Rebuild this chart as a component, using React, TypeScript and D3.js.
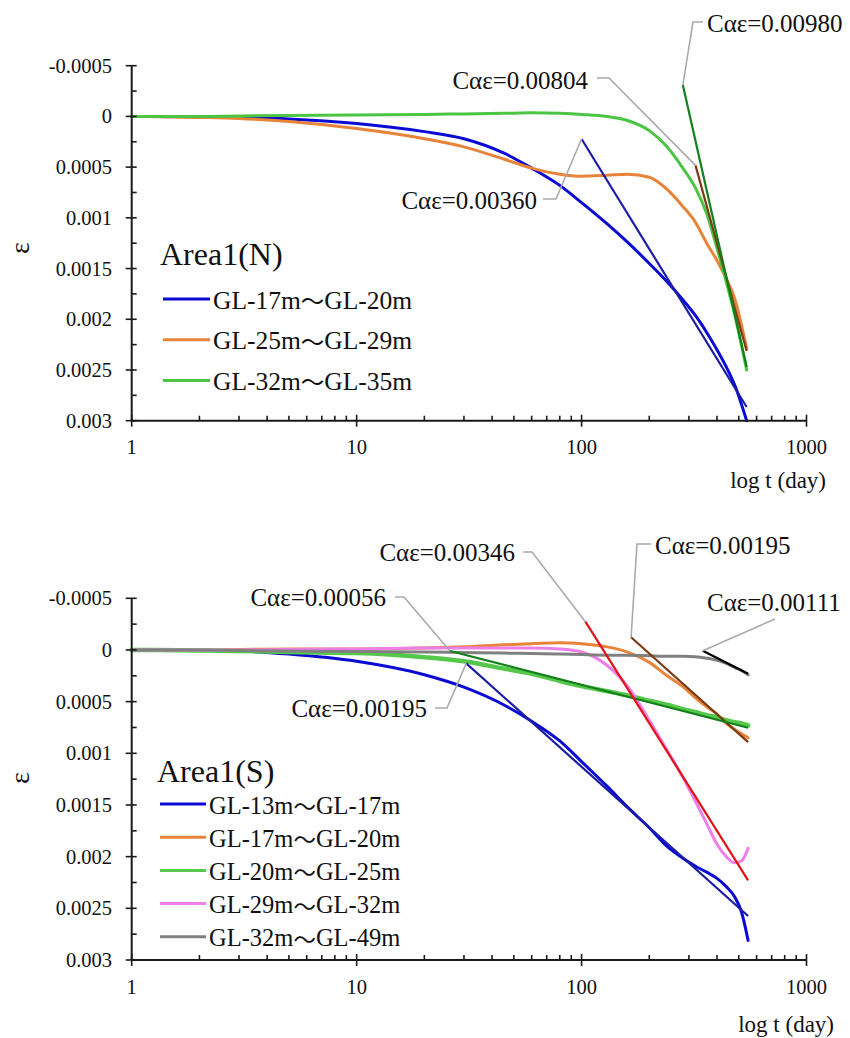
import React from "react";
import * as d3 from "d3";

// ---------- data ----------
const topT = [1, 2, 3, 5, 10, 20, 30, 45, 60, 80, 100, 130, 160, 200, 240, 280, 320, 360, 400, 440, 480, 542];
const topBlue = [0, 0.000004, 0.00001, 0.000025, 0.00007, 0.00015, 0.00022, 0.00036, 0.00051, 0.00068, 0.00085, 0.00106, 0.00124, 0.00145, 0.00163, 0.0018, 0.00196, 0.00213, 0.0023, 0.00247, 0.00265, 0.003];
const topOrange = [0, 0.00001, 0.00002, 0.00005, 0.00012, 0.00022, 0.0003, 0.00042, 0.00051, 0.00057, 0.00059, 0.00058, 0.00057, 0.0006, 0.00072, 0.00088, 0.00104, 0.00125, 0.00142, 0.0016, 0.0018, 0.00229];
const topGreen = [0, 0, -0.000005, -0.00001, -0.000015, -0.00002, -0.000025, -0.00003, -0.000035, -0.00003, -0.00002, 0, 0.00004, 0.00014, 0.0003, 0.0005, 0.0007, 0.00096, 0.0013, 0.00163, 0.00196, 0.0025];
const topNames = ["GL-17m〜GL-20m", "GL-25m〜GL-29m", "GL-32m〜GL-35m"];

const botT = [1, 2, 3, 5, 10, 20, 30, 45, 60, 80, 100, 130, 160, 200, 240, 280, 320, 360, 400, 440, 480, 515, 550];
const botBlue = [0, 0.000005, 0.00001, 0.00004, 0.00011, 0.00024, 0.00036, 0.00053, 0.00069, 0.00088, 0.00108, 0.00132, 0.00152, 0.00172, 0.0019, 0.00201, 0.00209, 0.00215, 0.00221, 0.00229, 0.00239, 0.00254, 0.00281];
const botOrange = [0, 0, -0.000005, -0.00001, -0.00001, -0.00002, -0.00003, -0.00005, -0.00006, -0.00007, -0.00006, -0.00003, 0.00002, 0.00012, 0.00025, 0.00035, 0.00046, 0.00055, 0.00062, 0.00071, 0.00077, 0.00081, 0.00085];
const botGreen = [0, 0.000005, 0.00001, 0.00002, 0.00003, 0.00007, 0.00011, 0.00018, 0.00023, 0.0003, 0.00035, 0.0004, 0.00044, 0.00049, 0.00053, 0.00057, 0.0006, 0.00063, 0.00065, 0.00068, 0.0007, 0.00071, 0.00073];
const botPink = [0, 0, 0, -0.000005, -0.00001, -0.00002, -0.00002, -0.00002, -0.00002, -0.00001, 0.00002, 0.00015, 0.00035, 0.00068, 0.00097, 0.00122, 0.00146, 0.00168, 0.00188, 0.002, 0.00206, 0.00204, 0.00192];
const botGray = [0, 0, 0.000005, 0.00001, 0.000015, 0.00002, 0.000025, 0.00003, 0.000035, 0.00004, 0.000045, 0.00005, 0.00005, 0.000055, 0.00006, 0.00006, 0.000065, 0.00008, 0.0001, 0.00013, 0.00017, 0.0002, 0.00024];
const botNames = ["GL-13m〜GL-17m", "GL-17m〜GL-20m", "GL-20m〜GL-25m", "GL-29m〜GL-32m", "GL-32m〜GL-49m"];

// tangent lines: start t, end t, start strain, slope Cαε per log cycle
const topTanStartT = [100, 321, 282];
const topTanEndT = [542, 542, 542];
const topTanStartE = [0.000223, 0.000483, -0.00031];
const topTanC = [0.0036, 0.00804, 0.0098];

const botTanStartT = [30.7, 166, 26, 104, 346];
const botTanEndT = [550, 550, 550, 550, 550];
const botTanStartE = [0.00013, -0.000123, 0.00001, -0.000274, 0.000007];
const botTanC = [0.00195, 0.00195, 0.00056, 0.00346, 0.00111];

const yTickVals = [-0.0005, 0, 0.0005, 0.001, 0.0015, 0.002, 0.0025, 0.003];
const yTickLabels = ["-0.0005", "0", "0.0005", "0.001", "0.0015", "0.002", "0.0025", "0.003"];
const xTickVals = [1, 10, 100, 1000];
const xTickLabels = ["1", "10", "100", "1000"];

// ---------- styling ----------
const FONT = "Liberation Serif, Times New Roman, DejaVu Serif, serif";
const CJK = "Noto Sans CJK JP, sans-serif";
const AX = "#1a1a1a";
const LEAD = "#aaaaaa";

const x = d3.scaleLog().domain([1, 1000]).range([131.7, 806.5]);

type Series = { t: number[]; e: number[]; color: string; width: number };
type Tangent = { t0: number; t1: number; e0: number; c: number; color: string };
type Ann = { idx: number; tx: number; ty: number; anchor: string; path: [number, number][] };

function Chart(props: {
  yTop: number; yBot: number; series: Series[]; tangents: Tangent[]; anns: Ann[];
  title: string; titleX: number; titleY: number; names: string[]; colors: string[];
  legX: number; legY: number; legStep: number; legLen: number; legFont: number;
  xlabY: number; logX: number; logY: number; epsY: number;
}) {
  const y = d3.scaleLinear().domain([-0.0005, 0.003]).range([props.yTop, props.yBot]);
  const x0 = x(1);
  const axisY = props.yBot;
  const line = d3.line<[number, number]>().x(d => x(d[0])).y(d => y(d[1])).curve(d3.curveMonotoneX);
  const minorY = d3.range(-0.00025, 0.003, 0.0005);
  const minorX: number[] = [];
  [1, 10, 100].forEach(b => { for (let k = 2; k <= 9; k++) minorX.push(b * k); });
  const ts = { fontFamily: FONT };
  return (
    <g style={ts}>
      {props.series.map((s, i) => (
        <path key={"s" + i} d={line(s.t.map((t, j) => [t, s.e[j]] as [number, number])) || ""}
          fill="none" stroke={s.color} strokeWidth={s.width} strokeLinejoin="round" strokeLinecap="round" />
      ))}
      {props.tangents.map((g, i) => {
        const e1 = g.e0 + g.c * Math.log10(g.t1 / g.t0);
        return <line key={"g" + i} x1={x(g.t0)} y1={y(g.e0)} x2={x(g.t1)} y2={y(e1)} stroke={g.color} strokeWidth={2.2} />;
      })}
      {props.anns.map((a, i) => {
        const g = props.tangents[a.idx];
        const pts = [...a.path, [x(g.t0), y(g.e0)]];
        return (
          <g key={"a" + i}>
            <polyline points={pts.map(p => p.join(",")).join(" ")} fill="none" stroke={LEAD} strokeWidth={1.6} />
            <text x={a.tx} y={a.ty} textAnchor={a.anchor} dominantBaseline="central" style={{ fontFamily: FONT, fontSize: 25 }} fill="#111">
              {`Cαε=${g.c.toFixed(5)}`}
            </text>
          </g>
        );
      })}
      <line x1={x0} y1={props.yTop} x2={x0} y2={axisY} stroke={AX} strokeWidth={2} />
      <line x1={x0} y1={axisY} x2={x(1000)} y2={axisY} stroke={AX} strokeWidth={2} />
      {yTickVals.map((v, i) => (
        <g key={"yt" + i}>
          <line x1={x0 - 6} x2={x0 + 5} y1={y(v)} y2={y(v)} stroke={AX} strokeWidth={1.6} />
          <text x={112} y={y(v)} textAnchor="end" dominantBaseline="central" style={{ fontFamily: FONT, fontSize: 20.5 }} fill="#111">{yTickLabels[i]}</text>
        </g>
      ))}
      {minorY.map((v, i) => (
        <line key={"ym" + i} x1={x0} x2={x0 + 5} y1={y(v)} y2={y(v)} stroke={AX} strokeWidth={1.6} />
      ))}
      {xTickVals.map((v, i) => (
        <g key={"xt" + i}>
          <line x1={x(v)} x2={x(v)} y1={axisY - 6} y2={axisY + 6} stroke={AX} strokeWidth={1.6} />
          <text x={x(v)} y={props.xlabY} textAnchor="middle" dominantBaseline="central" style={{ fontFamily: FONT, fontSize: 20.5 }} fill="#111">{xTickLabels[i]}</text>
        </g>
      ))}
      {minorX.map((v, i) => (
        <line key={"xm" + i} x1={x(v)} x2={x(v)} y1={axisY - 5} y2={axisY} stroke={AX} strokeWidth={1.6} />
      ))}
      <text x={props.logX} y={props.logY} textAnchor="end" dominantBaseline="central" style={{ fontFamily: FONT, fontSize: 23 }} fill="#111">log t (day)</text>
      <text transform={`translate(19,${props.epsY}) rotate(-90)`} textAnchor="middle" dominantBaseline="central" style={{ fontFamily: FONT, fontSize: 28 }} fill="#111">ε</text>
      <text x={props.titleX} y={props.titleY} style={{ fontFamily: FONT, fontSize: 32 }} fill="#111">{props.title}</text>
      {props.names.map((n, i) => {
        const ly = props.legY + i * props.legStep;
        const parts = n.split("〜");
        return (
          <g key={"l" + i}>
            <line x1={props.legX} x2={props.legX + props.legLen} y1={ly} y2={ly} stroke={props.colors[i]} strokeWidth={3} />
            <text x={props.legX + props.legLen + 3} y={ly + 1} dominantBaseline="central" style={{ fontFamily: FONT, fontSize: props.legFont }} fill="#111">
              {parts[0]}<tspan style={{ fontFamily: CJK, fontSize: props.legFont - 2 }}>〜</tspan>{parts[1]}
            </text>
          </g>
        );
      })}
    </g>
  );
}

export default function App() {
  const topSeries: Series[] = [
    { t: topT, e: topBlue, color: "#0a0ad2", width: 3 },
    { t: topT, e: topOrange, color: "#e8833a", width: 3 },
    { t: topT, e: topGreen, color: "#4cc444", width: 3 },
  ];
  const topTangents: Tangent[] = topTanC.map((c, i) => ({
    t0: topTanStartT[i], t1: topTanEndT[i], e0: topTanStartE[i], c,
    color: ["#1c1ca6", "#7a3b12", "#13801a"][i],
  }));
  const botSeries: Series[] = [
    { t: botT, e: botBlue, color: "#0a0ad2", width: 3 },
    { t: botT, e: botOrange, color: "#e8833a", width: 3 },
    { t: botT, e: botGreen, color: "#55c84c", width: 4.5 },
    { t: botT, e: botPink, color: "#ee7ee8", width: 3 },
    { t: botT, e: botGray, color: "#808080", width: 3 },
  ];
  const botTangents: Tangent[] = botTanC.map((c, i) => ({
    t0: botTanStartT[i], t1: botTanEndT[i], e0: botTanStartE[i], c,
    color: ["#1c1ca6", "#7a3b12", "#13801a", "#e01414", "#000000"][i],
  }));
  const topAnns: Ann[] = [
    { idx: 0, tx: 537, ty: 200, anchor: "end", path: [[543, 199], [556, 199]] },
    { idx: 1, tx: 588, ty: 80, anchor: "end", path: [[597, 78], [609, 78]] },
    { idx: 2, tx: 707, ty: 23, anchor: "start", path: [[703, 22], [693, 22]] },
  ];
  const botAnns: Ann[] = [
    { idx: 3, tx: 515, ty: 552, anchor: "end", path: [[523, 552], [532, 552]] },
    { idx: 1, tx: 655, ty: 545, anchor: "start", path: [[651, 544], [637, 544]] },
    { idx: 4, tx: 707, ty: 602, anchor: "start", path: [[775, 619]] },
    { idx: 2, tx: 386, ty: 597, anchor: "end", path: [[395, 597], [404, 597]] },
    { idx: 0, tx: 427, ty: 708, anchor: "end", path: [[435, 708], [447, 708]] },
  ];
  return (
    <svg width={850} height={1038} style={{ position: "absolute", left: 0, top: 0, background: "#fff" }}>
      <rect x={0} y={0} width={850} height={1038} fill="#fff" />
      <Chart yTop={65.7} yBot={420.7} series={topSeries} tangents={topTangents} anns={topAnns}
        title="Area1(N)" titleX={160} titleY={265} names={topNames}
        colors={["#0a0ad2", "#e8833a", "#4cc444"]}
        legX={163} legY={299} legStep={40.7} legLen={47} legFont={25.5}
        xlabY={446.5} logX={826} logY={480} epsY={248} />
      <Chart yTop={598.3} yBot={960} series={botSeries} tangents={botTangents} anns={botAnns}
        title="Area1(S)" titleX={157} titleY={782} names={botNames}
        colors={["#0a0ad2", "#e8833a", "#55c84c", "#ee7ee8", "#808080"]}
        legX={160} legY={804} legStep={33.2} legLen={46} legFont={24.5}
        xlabY={986.5} logX={834} logY={1024} epsY={778} />
    </svg>
  );
}
